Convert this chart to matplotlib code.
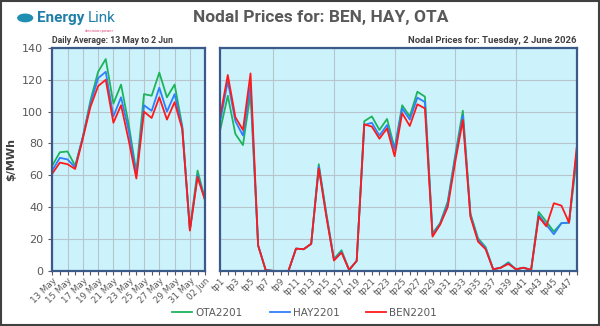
import numpy as np
import matplotlib.pyplot as plt
from matplotlib.patches import Rectangle, Circle

# daily averages 13 May - 2 Jun
days = ['13 May', '14 May', '15 May', '16 May', '17 May', '18 May', '19 May',
        '20 May', '21 May', '22 May', '23 May', '24 May', '25 May', '26 May',
        '27 May', '28 May', '29 May', '30 May', '31 May', '01 Jun', '02 Jun']
ota_daily = [66, 74.5, 75, 66, 84, 107, 125, 133, 105, 117, 92, 62, 111, 110,
             124.5, 109, 117, 91, 26, 63, 44.5]
hay_daily = [63, 71, 70, 65, 84, 105, 121, 125, 97, 109, 88, 60, 104, 100.5,
             115, 100, 111, 90, 25.7, 60, 44.5]
ben_daily = [61, 68, 67, 64, 83, 103, 116, 120, 93, 104, 82, 58, 100, 96,
             109, 95, 106, 89, 25.3, 59, 44]

# trading periods for 2 June
tps = ['tp%d' % i for i in range(1, 49)]
ota_tp = [88.5, 110, 86, 79, 111.5, 16, 0.5, 0, 0, 0, 14, 13.6, 17, 67, 36,
          7.5, 13, 0.6, 6.3, 94, 97, 88.5, 95.4, 77, 104, 97, 112.5, 109.4,
          23.6, 30, 43.5, 73, 100.6, 36, 20.5, 15, 1, 2, 5.4, 1, 2, 0.6,
          37, 31, 24.7, 30, 30.3, 70]
hay_tp = [94, 119, 94, 85, 117, 16, 0.5, 0, 0, 0, 14, 13.6, 17, 65.5, 35,
          7, 12, 0.6, 6.3, 91.6, 93, 85, 91.6, 76, 102, 95, 108.8, 106,
          22.5, 29.5, 42, 71, 97.5, 35, 19.5, 14.3, 1, 2, 4.9, 1, 2, 0.6,
          35, 29, 23, 30, 30.3, 74]
ben_tp = [97, 123, 96.5, 88.5, 124, 16, 0.5, 0, 0, 0, 14, 13.6, 17, 64.4, 34,
          6.5, 11.5, 0.6, 6.3, 92, 90.6, 83, 89.5, 72, 99, 91, 104.6, 102,
          21.5, 29, 40, 68.6, 94.7, 34, 18.4, 13.6, 1, 2, 4.4, 1, 2, 0.6,
          34, 28, 42.5, 41, 30.3, 77]

c_ota = '#1DB45A'
c_hay = '#2F7FFF'
c_ben = '#FF1A1A'
face = '#CCF3FC'
spine = '#3B5A8A'
txt = '#595959'

fig = plt.figure(figsize=(6, 3.26), dpi=100)
fig.patches.append(Rectangle((0.002, 0.003), 0.996, 0.994, transform=fig.transFigure,
                             fill=False, edgecolor='#404040', linewidth=1.5))

ax1 = fig.add_axes([0.087, 0.169, 0.255, 0.684])
ax2 = fig.add_axes([0.367, 0.169, 0.594, 0.684])

for ax in (ax1, ax2):
    ax.set_facecolor(face)
    for s in ax.spines.values():
        s.set_color(spine)
        s.set_linewidth(1.6)
    ax.set_ylim(0, 140)
    ax.set_yticks(np.arange(0, 141, 20))
    ax.grid(True, color='#B8C4CC', linewidth=0.8)
    ax.set_axisbelow(True)
    ax.tick_params(axis='x', colors=txt, labelsize=6.3, length=3, width=0.8,
                   labelrotation=45, pad=1)
    ax.tick_params(axis='y', colors=txt, labelsize=8, length=3, width=0.8)

x1 = np.arange(len(days))
ax1.plot(x1, ota_daily, color=c_ota, lw=1.3)
ax1.plot(x1, hay_daily, color=c_hay, lw=1.3)
ax1.plot(x1, ben_daily, color=c_ben, lw=1.3)
ax1.set_xlim(0, len(days) - 1)
ax1.set_xticks(x1[::2])
ax1.set_xticklabels(days[::2], ha='right', rotation_mode='anchor')
ax1.set_xticks(x1, minor=True)
ax1.tick_params(axis='x', which='minor', length=3, width=0.8, color=txt)
ax1.set_ylabel('\\$/MWh', color='#404040', fontsize=8, fontweight='bold', labelpad=4)

x2 = np.arange(1, len(tps) + 1)
l1, = ax2.plot(x2, ota_tp, color=c_ota, lw=1.3, label='OTA2201')
l2, = ax2.plot(x2, hay_tp, color=c_hay, lw=1.3, label='HAY2201')
l3, = ax2.plot(x2, ben_tp, color=c_ben, lw=1.3, label='BEN2201')
ax2.set_xlim(1, len(tps))
ax2.set_xticks(x2[::2])
ax2.set_xticklabels(tps[::2], ha='right', rotation_mode='anchor')
ax2.set_xticks(x2, minor=True)
ax2.tick_params(axis='x', which='minor', length=3, width=0.8, color=txt)
ax2.tick_params(axis='y', length=0, labelleft=False)
ax2.grid(False, axis='x')
for g in range(8, 49, 8):
    ax2.axvline(g, color='#B8C4CC', linewidth=0.8, zorder=0)

fig.legend(handles=[l1, l2, l3], loc='center', bbox_to_anchor=(0.508, 0.04), ncol=3,
           frameon=False, fontsize=7.5, handlelength=1.9, handletextpad=0.3,
           columnspacing=2.6, labelcolor=txt)

fig.text(0.535, 0.945, 'Nodal Prices for: BEN, HAY, OTA', ha='center', va='center',
         fontsize=12.5, fontweight='bold', color=txt, family='Roboto')
fig.text(0.087, 0.877, 'Daily Average: 13 May to 2 Jun', ha='left', va='center',
         fontsize=6.3, fontweight='bold', color='#404040', family='Roboto')
fig.text(0.961, 0.877, 'Nodal Prices for: Tuesday, 2 June 2026', ha='right', va='center',
         fontsize=6.8, fontweight='bold', color='#404040', family='Roboto')

# logo
fig.patches.append(Circle((0.042, 0.945), 0.0135, transform=fig.transFigure,
                          facecolor='#1E8FB0', edgecolor='none'))
r = fig.canvas.get_renderer()
t1 = fig.text(0.062, 0.945, 'Energy', ha='left', va='center', fontsize=11,
              fontweight='bold', color='#1E7FA8', family='Roboto')
bb = t1.get_window_extent(r).transformed(fig.transFigure.inverted())
fig.text(bb.x1 + 0.006, 0.945, 'Link', ha='left', va='center', fontsize=11,
         color='#1E7FA8', family='Roboto')
fig.text(0.142, 0.905, 'decision power', ha='left', va='center', fontsize=3,
         color='#E0457B', family='Roboto')

fig.savefig('out.png', dpi=100)
